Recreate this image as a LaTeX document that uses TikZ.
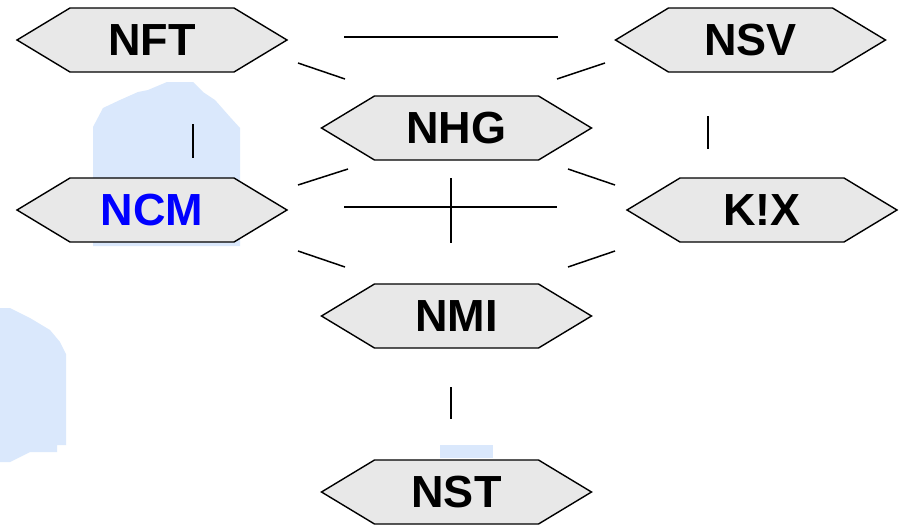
\documentclass[tikz,border=0pt]{standalone}
\usepackage{fontspec}
\setmainfont{Liberation Sans}
\usetikzlibrary{calc}
\pgfdeclarelayer{background}
\pgfsetlayers{background,main}
\definecolor{hexfill}{RGB}{232,232,232}
\definecolor{wmblue}{RGB}{218,232,252}
\definecolor{ncmblue}{RGB}{0,0,255}
\tikzset{
  hexnode/.style={shape=rectangle, minimum width=270pt, minimum height=64pt,
    inner sep=0pt, outer sep=0pt, font=\fontsize{45}{45}\selectfont\bfseries},
  hexshape/.style={fill=hexfill, draw=black, line width=1.4pt, line join=miter},
  conn/.style={draw=black, line width=1.5pt},
  wm/.style={fill=wmblue, draw=none}
}
\newcommand\hexoutline[1]{%
  \begin{pgfonlayer}{background}
  \path[hexshape] (#1.west) -- ([xshift=53pt]#1.north west) -- ([xshift=-53pt]#1.north east)
    -- (#1.east) -- ([xshift=-53pt]#1.south east) -- ([xshift=53pt]#1.south west) -- cycle;
  \end{pgfonlayer}}
\begin{document}
\begin{tikzpicture}[x=1pt,y=-1pt]
\useasboundingbox (0,0) rectangle (901,525);
% watermark
\begin{pgfonlayer}{background}
\fill[white] (0,0) rectangle (901,525);
\fill[wm] (93,127) -- (103,108) -- (120,100) -- (138,92) -- (148,90) -- (167,82) -- (193,82)
  -- (203,92) -- (215,100) -- (230,117) -- (240,128) -- (240,246) -- (93,246) -- cycle;
\fill[wm] (0,308) -- (10,308) -- (30,318) -- (50,330) -- (60,342) -- (66,354) -- (66,445)
  -- (57,445) -- (57,452) -- (30,452) -- (10,462) -- (0,462) -- cycle;
\fill[wm] (440,445) rectangle (493,458);
\end{pgfonlayer}
% nodes
\node[hexnode] (NFT) at (152,40) {NFT};
\node[hexnode] (NSV) at (750.5,40) {NSV};
\node[hexnode] (NHG) at (456.5,128) {NHG};
\node[hexnode, text=ncmblue] (NCM) at (152,210) {NCM};
\node[hexnode] (KX) at (762,210) {K!X};
\node[hexnode] (NMI) at (456.5,316) {NMI};
\node[hexnode] (NST) at (456.5,492) {NST};
\hexoutline{NFT}\hexoutline{NSV}\hexoutline{NHG}\hexoutline{NCM}
\hexoutline{KX}\hexoutline{NMI}\hexoutline{NST}
% connectors
\draw[conn] ($(NFT.east)+(57,-3)$) -- ($(NSV.west)+(-57.5,-3)$);
\draw[conn] ($(NFT.east)+(11,23)$) -- ($(NHG.west)+(23.5,-49)$);
\draw[conn] ($(NHG.east)+(-34.5,-49)$) -- ($(NSV.west)+(-10.5,23)$);
\draw[conn] ($(NFT.south)+(41,52)$) -- ($(NCM.north)+(41,-20)$);
\draw[conn] ($(NSV.south)+(-42.5,44)$) -- ($(KX.north)+(-54,-29)$);
\draw[conn] ($(NCM.east)+(11,-25)$) -- ($(NHG.west)+(26.5,41)$);
\draw[conn] ($(NHG.east)+(-23.5,41)$) -- ($(KX.west)+(-12,-25)$);
\draw[conn] ($(NHG.south)+(-5.5,18)$) -- ($(NMI.north)+(-5.5,-41)$);
\draw[conn] ($(NCM.east)+(57,-3)$) -- ($(KX.west)+(-70,-3)$);
\draw[conn] ($(NCM.east)+(11,41)$) -- ($(NMI.west)+(23.5,-49)$);
\draw[conn] ($(NMI.east)+(-23.5,-49)$) -- ($(KX.west)+(-12,41)$);
\draw[conn] ($(NMI.south)+(-5.5,39)$) -- ($(NST.north)+(-5.5,-41)$);
\end{tikzpicture}
\end{document}
